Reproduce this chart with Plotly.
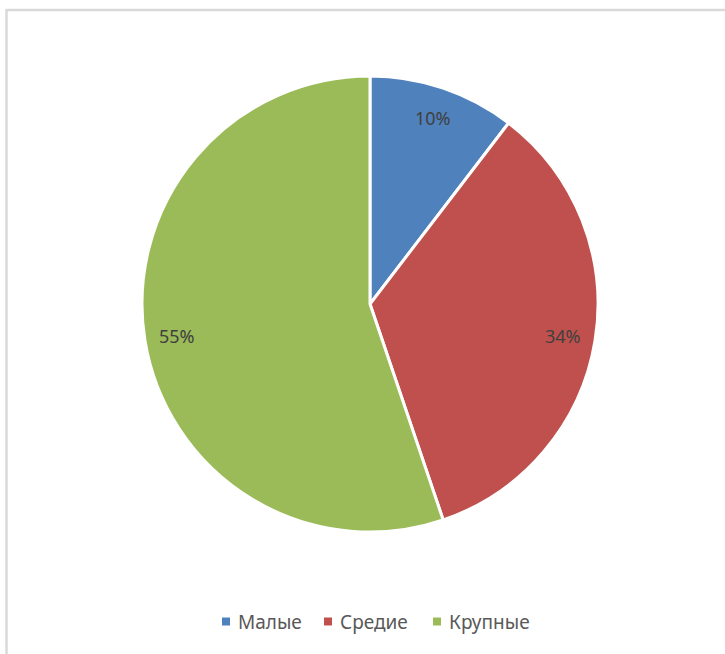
import math
import plotly.graph_objects as go

# Share of enterprises by size group
categories = ["Малые", "Средие", "Крупные"]
shares = [10.4, 34.4, 55.2]
colors = ["#4F81BD", "#C0504D", "#9BBB59"]

W, H = 725, 654
cx, cy, R = 370, 304, 228  # pie centre and radius in pixels
FONT = "Noto Sans, Open Sans, sans-serif"

fig = go.Figure()

fig.add_trace(go.Pie(
    labels=categories,
    values=shares,
    marker=dict(colors=colors, line=dict(color="white", width=3)),
    sort=False,
    direction="clockwise",
    rotation=0,
    textinfo="none",
    hoverinfo="label+percent",
    showlegend=False,
    domain=dict(x=[(cx - R) / W, (cx + R) / W],
                y=[1 - (cy + R) / H, 1 - (cy - R) / H]),
))

# Percentage labels placed near the rim of each slice
total = sum(shares)
cum = 0.0
for name, v in zip(categories, shares):
    mid = (cum + v / 2) / total * 2 * math.pi
    cum += v
    r = 0.86 * R
    px = cx + r * math.sin(mid)
    py = cy - r * math.cos(mid)
    fig.add_annotation(
        x=px / W, y=1 - py / H, xref="paper", yref="paper",
        xanchor="center", yanchor="middle",
        text=f"{round(v / total * 100)}%", showarrow=False,
        font=dict(family=FONT, size=18, color="#404040"),
    )

# Legend row: small square swatch followed by the category name
legend_x = [222, 324, 433]
legend_y = 621.5
for name, c, lx in zip(categories, colors, legend_x):
    fig.add_shape(type="rect", xref="paper", yref="paper",
                  x0=lx / W, x1=(lx + 8) / W,
                  y0=1 - (legend_y + 4) / H, y1=1 - (legend_y - 4) / H,
                  fillcolor=c, line=dict(width=0))
    fig.add_annotation(
        x=(lx + 14) / W, y=1 - legend_y / H, xref="paper", yref="paper",
        xanchor="left", yanchor="middle", showarrow=False, text=name,
        font=dict(family=FONT, size=19, color="#595959"),
    )

# Chart frame
frame = dict(color="#D9D9D9", width=2.5)
fig.add_shape(type="line", xref="paper", yref="paper",
              x0=6.5 / W, x1=6.5 / W, y0=0, y1=1 - 9 / H, line=frame)
fig.add_shape(type="line", xref="paper", yref="paper",
              x0=6.5 / W, x1=1, y0=1 - 10 / H, y1=1 - 10 / H, line=frame)

fig.update_layout(
    width=W, height=H,
    margin=dict(l=0, r=0, t=0, b=0),
    paper_bgcolor="white", plot_bgcolor="white",
    showlegend=False,
)

fig.write_html("out.html")
